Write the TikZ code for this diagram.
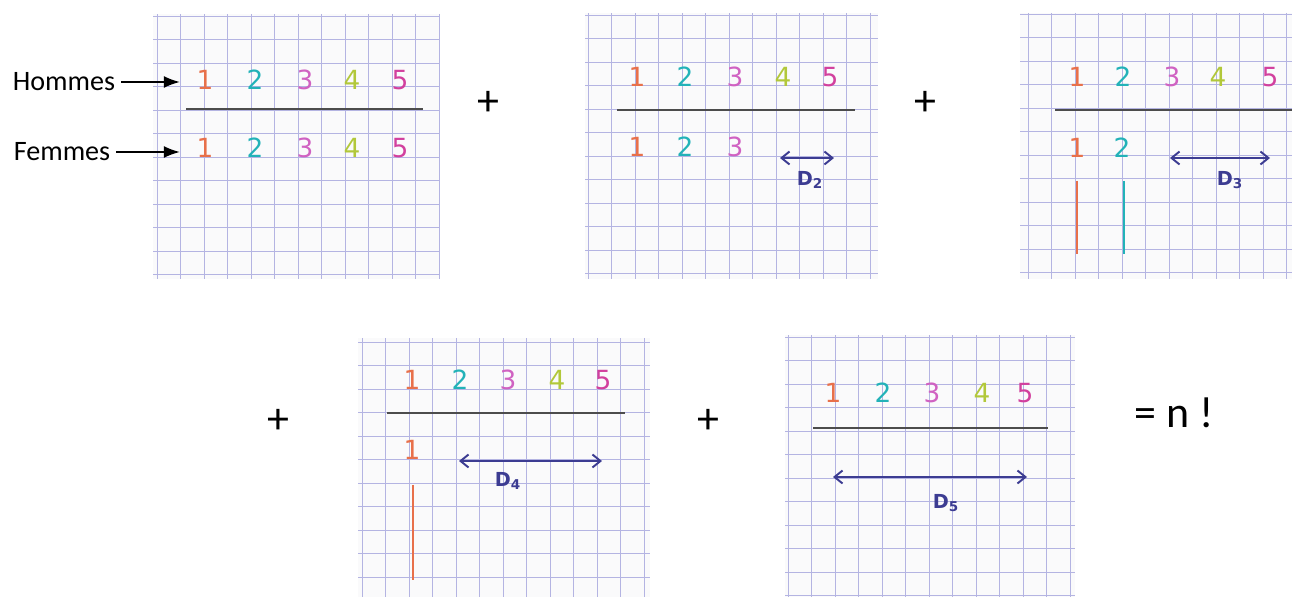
\documentclass[tikz,border=0pt]{standalone}
\usepackage{fontspec}
\setmainfont{Carlito}
\setsansfont{DejaVu Sans}
\usetikzlibrary{arrows.meta}

\definecolor{one}{HTML}{E8704A}
\definecolor{two}{HTML}{22B2B8}
\definecolor{three}{HTML}{D062C2}
\definecolor{four}{HTML}{B2C83A}
\definecolor{five}{HTML}{D2409E}
\definecolor{pen}{HTML}{3C3C92}
\definecolor{paper}{HTML}{FAFAFB}
\definecolor{gridblue}{HTML}{B4B4E2}

\tikzset{
  gridline/.style={draw=gridblue, line width=0.5pt},
  digit/.style={font=\sffamily\fontsize{15}{15}\selectfont},
  dlabel/.style={text=pen, font=\sffamily\bfseries\fontsize{11}{11}\selectfont},
  darrow/.style={pen, line width=1.1pt, {Straight Barb[length=1.6mm,width=2.6mm]}-{Straight Barb[length=1.6mm,width=2.6mm]}},
  barline/.style={draw=black!70, line width=1.2pt},
  word/.style={font=\fontsize{16}{16}\selectfont},
  sign/.style={font=\fontsize{25}{25}\selectfont}
}

% squared paper: x0,y0,x1,y1, first vertical line, first horizontal line
\newcommand{\papergrid}[6]{%
  \begin{scope}
    \clip (#1,#2) rectangle (#3,#4);
    \fill[paper] (#1,#2) rectangle (#3,#4);
    \foreach \k in {0,...,12} {
      \draw[gridline] ({#5+23.5*\k},#2) -- ({#5+23.5*\k},#4);
      \draw[gridline] (#1,{#6+23.5*\k}) -- (#3,{#6+23.5*\k});
    }
  \end{scope}}

\begin{document}
\begin{tikzpicture}[x=0.02cm, y=-0.02cm, >={Latex[length=3.2mm,width=2.4mm]}]
	\useasboundingbox (0,0) rectangle (1303,597);

	% first sheet: both rows complete
	\papergrid{153}{14}{440}{279}{157}{16}
	\foreach \n/\c/\x in {1/one/205, 2/two/255, 3/three/305, 4/four/352, 5/five/400} {
		\node[digit, text=\c] (pa-h\n) at (\x,80) {\n};
		\node[digit, text=\c] (pa-f\n) at (\x,148) {\n};
	}
	\coordinate (pa-l) at (186,109);
	\coordinate (pa-r) at (423,109);
	\draw[barline] (pa-l) -- (pa-r);
	\node[word] (hommes) at (64,82) {Hommes};
	\node[word] (femmes) at (62,152) {Femmes};
	\draw[->, line width=1pt, shorten >=6pt] (hommes.east) -- (pa-h1.west |- hommes.east);
	\draw[->, line width=1pt, shorten >=6pt] (femmes.east) -- (pa-f1.west |- femmes.east);

	\node[sign] (plus-a) at (488,103) {+};

	% second sheet
	\papergrid{585}{13}{878}{279}{588}{15}
	\foreach \n/\c/\x in {1/one/637, 2/two/685, 3/three/735, 4/four/783, 5/five/830} {
		\node[digit, text=\c] (pb-h\n) at (\x,77) {\n};
	}
	\foreach \n/\c/\x in {1/one/637, 2/two/685, 3/three/735} {
		\node[digit, text=\c] (pb-f\n) at (\x,147) {\n};
	}
	\coordinate (pb-l) at (617,110);
	\coordinate (pb-r) at (855,110);
	\draw[barline] (pb-l) -- (pb-r);
	\coordinate (pb-dl) at (780,158);
	\coordinate (pb-dr) at (834,158);
	\draw[darrow] (pb-dl) -- (pb-dr);
	\node[dlabel] (pb-d) at (810,180) {D\textsubscript{2}};

	\node[sign] (plus-b) at (925,103) {+};

	% third sheet
	\papergrid{1020}{13}{1292}{279}{1028}{14}
	\foreach \n/\c/\x in {1/one/1077, 2/two/1123, 3/three/1172, 4/four/1218, 5/five/1270} {
		\node[digit, text=\c] (pc-h\n) at (\x,77) {\n};
	}
	\foreach \n/\c/\x in {1/one/1077, 2/two/1122} {
		\node[digit, text=\c] (pc-f\n) at (\x,148) {\n};
	}
	\coordinate (pc-l) at (1055,110);
	\coordinate (pc-r) at (1292,110);
	\draw[barline] (pc-l) -- (pc-r);
	\coordinate (pc-dl) at (1170,158);
	\coordinate (pc-dr) at (1270,158);
	\draw[darrow] (pc-dl) -- (pc-dr);
	\node[dlabel] (pc-d) at (1230,180) {D\textsubscript{3}};
	\draw[one, line width=1.2pt] (1077,181) -- (1077,254);
	\draw[two, line width=1.2pt] (1124,181) -- (1124,254);

	% fourth sheet
	\node[sign] (plus-c) at (278,421) {+};
	\papergrid{358}{338}{650}{597}{362}{342}
	\foreach \n/\c/\x in {1/one/412, 2/two/460, 3/three/508, 4/four/557, 5/five/603} {
		\node[digit, text=\c] (pd-h\n) at (\x,380) {\n};
	}
	\node[digit, text=one] (pd-f1) at (412,450) {1};
	\coordinate (pd-l) at (387,413);
	\coordinate (pd-r) at (625,413);
	\draw[barline] (pd-l) -- (pd-r);
	\coordinate (pd-dl) at (459,461);
	\coordinate (pd-dr) at (602,461);
	\draw[darrow] (pd-dl) -- (pd-dr);
	\node[dlabel] (pd-d) at (508,481) {D\textsubscript{4}};
	\draw[one, line width=1.2pt] (413,485) -- (413,580);

	\node[sign] (plus-d) at (708,421) {+};

	% fifth sheet
	\papergrid{785}{335}{1075}{597}{788}{337}
	\foreach \n/\c/\x in {1/one/833, 2/two/883, 3/three/932, 4/four/982, 5/five/1025} {
		\node[digit, text=\c] (pe-h\n) at (\x,393) {\n};
	}
	\coordinate (pe-l) at (813,428);
	\coordinate (pe-r) at (1048,428);
	\draw[barline] (pe-l) -- (pe-r);
	\coordinate (pe-dl) at (833,477);
	\coordinate (pe-dr) at (1027,477);
	\draw[darrow] (pe-dl) -- (pe-dr);
	\node[dlabel] (pe-d) at (946,503) {D\textsubscript{5}};

	\node[sign, anchor=west] (result) at (1128,413) {= n !};
\end{tikzpicture}
\end{document}
